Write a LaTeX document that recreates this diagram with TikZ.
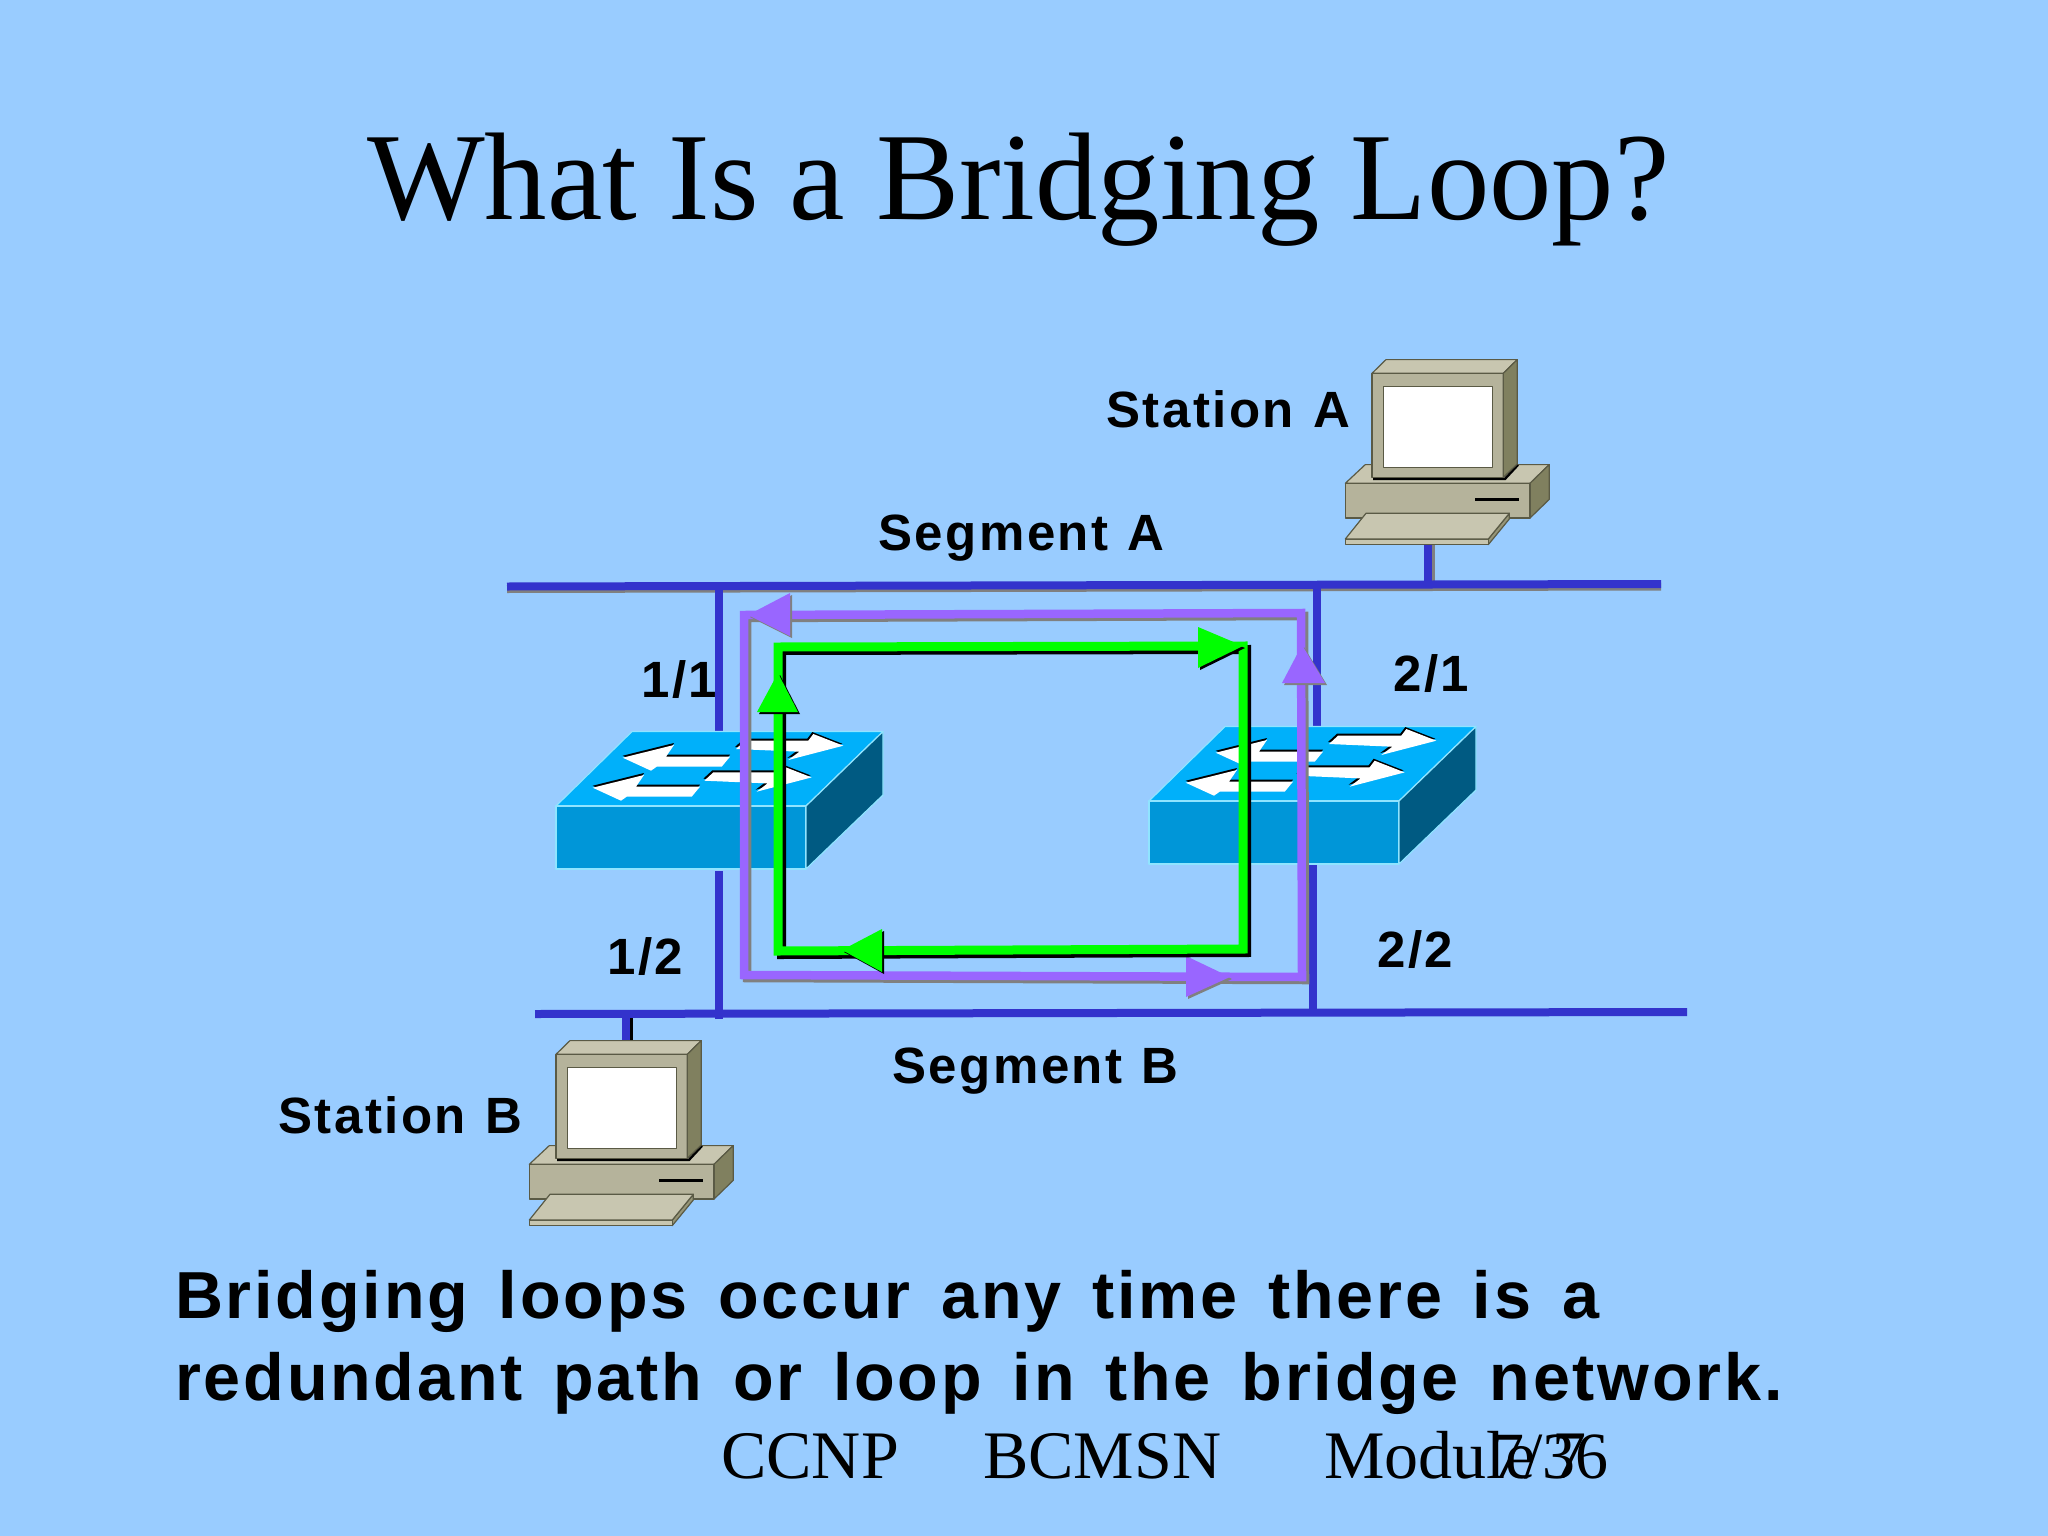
\documentclass[tikz,border=0pt]{standalone}
\usepackage{fontspec}
\setmainfont{Liberation Serif}
\newfontfamily\labelfont[LetterSpace=4.9, WordSpace=1.15]{Liberation Sans}
\newfontfamily\notefont[LetterSpace=4.2, WordSpace=1.45]{Liberation Sans}
\definecolor{slidebg}{HTML}{99CCFF}
\definecolor{busblue}{HTML}{3333CC}
\definecolor{loopgreen}{HTML}{00FF00}
\definecolor{looppurple}{HTML}{9966FF}
\definecolor{swtop}{HTML}{00B0FA}
\definecolor{swfront}{HTML}{0096D8}
\definecolor{swside}{HTML}{005A82}
\definecolor{swedge}{HTML}{90E4FF}
\definecolor{pcfront}{HTML}{B5B39B}
\definecolor{pctop}{HTML}{C8C6B0}
\definecolor{pcside}{HTML}{80805F}
\definecolor{pcedge}{HTML}{5A5A45}
\tikzset{
    portlabel/.style={font=\labelfont\bfseries\fontsize{51}{51}\selectfont, anchor=base west, inner sep=0pt},
    notetext/.style={font=\notefont\bfseries\fontsize{66.5}{66.5}\selectfont, anchor=base west, inner sep=0pt},
    foottext/.style={font=\fontsize{68}{68}\selectfont, anchor=base west, inner sep=0pt},
    busline/.style={draw=busblue, line width=8pt},
    swface/.style={draw=swedge, line width=1.2pt, line join=round},
    pcface/.style={draw=pcedge, line width=1.2pt, line join=round},
    offset/.style args={#1/#2}{transform canvas={shift={(#1,#2)}}},
}
% switch icon, #1 #2 = top left corner of the front face
\newcommand{\switchicon}[2]{
    \begin{scope}[shift={(#1,#2)}]
        \filldraw[swface, fill=swtop] (0,0) -- (76,-74.5) -- (327,-74.5) -- (250,0) -- cycle;
        \filldraw[swface, fill=swfront] (0,0) rectangle (250,63);
        \filldraw[swface, fill=swside] (250,0) -- (327,-74.5) -- (327,-11) -- (250,63) -- cycle;
        \foreach \dx/\dy in {0/0, -31.7/31.7} {
            \fill[black, shift={(\dx-1,\dy-2)}] (180,-57) -- (189,-65.3) -- (252.3,-65.3) -- (257.3,-72)
                -- (287.3,-60.3) -- (232.3,-46) -- (243.3,-54.3) -- cycle;
            \fill[white, shift={(\dx,\dy)}] (180,-57) -- (189,-65.3) -- (252.3,-65.3) -- (257.3,-72)
                -- (287.3,-60.3) -- (232.3,-46) -- (243.3,-54.3) -- cycle;
        }
        \foreach \dx/\dy in {0/0, 30/-30} {
            \fill[black, shift={(\dx,\dy-2)}] (36.7,-18.3) -- (88,-31) -- (80,-19.3) -- (144,-19.3)
                -- (135.7,-9.3) -- (70.7,-9.3) -- (65,-5.3) -- cycle;
            \fill[white, shift={(\dx,\dy)}] (36.7,-18.3) -- (88,-31) -- (80,-19.3) -- (144,-19.3)
                -- (135.7,-9.3) -- (70.7,-9.3) -- (65,-5.3) -- cycle;
        }
    \end{scope}
}
% computer icon, #1 #2 = top left corner of the monitor front
\newcommand{\pcicon}[2]{
    \begin{scope}[shift={(#1,#2)}]
        \filldraw[pcface, fill=pctop] (-26.7,110) -- (-6.7,91.3) -- (177.3,91.3) -- (158,110) -- cycle;
        \filldraw[pcface, fill=pcside] (158,110) -- (177.3,91.3) -- (177.3,126) -- (158,144.7) -- cycle;
        \filldraw[pcface, fill=pcfront] (-26.7,110) rectangle (158,144.7);
        \draw[black, line width=3pt] (103.3,125.7) -- (147.3,125.7);
        \draw[black, line width=2.5pt] (1,105.5) -- (133,105.5) -- (146,91.5);
        \filldraw[pcface, fill=pctop] (0,0) -- (14,-13.7) -- (145.3,-13.7) -- (131.3,0) -- cycle;
        \filldraw[pcface, fill=pcfront] (0,0) rectangle (131.3,104);
        \filldraw[pcface, fill=pcside] (131.3,0) -- (145.3,-13.7) -- (145.3,90.7) -- (131.3,104) -- cycle;
        \filldraw[pcface, fill=white] (11.3,13.3) rectangle (120.7,94);
        \filldraw[pcface, fill=pcside!70!pctop] (116.3,165.7) -- (137.3,140) -- (137.3,145.7) -- (116.3,171.3) -- cycle;
        \filldraw[pcface, fill=pctop] (-26.7,165.7) rectangle (116.3,171.3);
        \filldraw[pcface, fill=pctop] (-6,140) -- (137.3,140) -- (116.3,165.7) -- (-26.7,165.7) -- cycle;
    \end{scope}
}
\begin{document}
\begin{tikzpicture}[x=1pt, y=-1pt]
    \useasboundingbox (0,0) rectangle (2048,1536);
    \fill[slidebg] (0,0) rectangle (2048,1536);

    \node[font=\fontsize{124.7}{124.7}\selectfont, anchor=base west, inner sep=0pt] (title) at (367,219.5) {What Is a Bridging Loop?};

    % segments
    \coordinate (segAleft) at (507,586.5);
    \coordinate (segAright) at (1661,584);
    \coordinate (segBleft) at (535,1014);
    \coordinate (segBright) at (1687,1012);
    \coordinate (segAstub) at (1428,584);
    \coordinate (stAstub) at (1428,545);
    \coordinate (segBstub) at (626,1014);
    \coordinate (stBstub) at (626,1045);
    \draw[gray, line width=8pt, offset=0/2.5] (segAleft) -- (segAright);
    \draw[gray, line width=8pt, offset=2.5/0] (stAstub) -- (segAstub);
    \draw[black, line width=8pt, offset=2.5/0] (segBstub) -- (stBstub);
    \draw[busline] (segAleft) -- (segAright);
    \draw[busline] (segBleft) -- (segBright);
    \draw[busline] (stAstub) -- (segAstub);
    \draw[busline] (segBstub) -- (stBstub);

    % links to the bridges
    \coordinate (oneA) at (719,586);
    \coordinate (oneAend) at (719,740);
    \coordinate (oneB) at (719,1019);
    \coordinate (oneBend) at (719,871);
    \coordinate (twoA) at (1317,584);
    \coordinate (twoAend) at (1317,740);
    \coordinate (twoB) at (1313,1012);
    \coordinate (twoBend) at (1313,860);
    \draw[busline] (oneA) -- (oneAend);
    \draw[busline] (oneB) -- (oneBend);
    \draw[busline] (twoA) -- (twoAend);
    \draw[busline] (twoB) -- (twoBend);

    \switchicon{556}{806}
    \switchicon{1149}{801}
    \pcicon{1372}{373.3}
    \pcicon{556}{1054.3}

    % purple loop
    \coordinate (pA) at (744,615);
    \coordinate (pB) at (1301,613);
    \coordinate (pC) at (1302,977);
    \coordinate (pD) at (744,975);
    \draw[gray, line width=8.5pt, line join=miter, offset=3/3] (pA) -- (pB) -- (pC) -- (pD) -- cycle;
    \draw[looppurple, line width=8.5pt, line join=miter] (pA) -- (pB) -- (pC) -- (pD) -- cycle;
    \foreach \tipx/\tipy/\ax/\ay/\bx/\by in {748/615/790/593/790/636, 1302/645/1282/683/1325/683, 1230/977/1186/956/1186/997} {
        \fill[gray, shift={(2,2)}] (\tipx,\tipy) -- (\ax,\ay) -- (\bx,\by) -- cycle;
        \fill[looppurple] (\tipx,\tipy) -- (\ax,\ay) -- (\bx,\by) -- cycle;
    }

    % green loop
    \coordinate (gA) at (778,647);
    \coordinate (gB) at (1243,646);
    \coordinate (gC) at (1243,949);
    \coordinate (gD) at (778,951);
    \draw[black, line width=9pt, line join=miter, offset=3.5/3.5] (gA) -- (gB) -- (gC) -- (gD) -- cycle;
    \draw[loopgreen, line width=9pt, line join=miter] (gA) -- (gB) -- (gC) -- (gD) -- cycle;
    \foreach \tipx/\tipy/\ax/\ay/\bx/\by in {778/673/757/712/798/712, 842/950/882/929/882/972, 1243/646/1198/627/1198/668} {
        \fill[black, shift={(2,2)}] (\tipx,\tipy) -- (\ax,\ay) -- (\bx,\by) -- cycle;
        \fill[loopgreen] (\tipx,\tipy) -- (\ax,\ay) -- (\bx,\by) -- cycle;
    }

    \node[portlabel] (stationA) at (1106,427) {Station A};
    \node[portlabel] (stationB) at (278,1133) {Station B};
    \node[portlabel] (segmentA) at (878,550) {Segment A};
    \node[portlabel] (segmentB) at (892,1083) {Segment B};
    \node[portlabel] (portOneOne) at (641,697) {1/1};
    \node[portlabel] (portOneTwo) at (607,974) {1/2};
    \node[portlabel] (portTwoOne) at (1393,691) {2/1};
    \node[portlabel] (portTwoTwo) at (1377,967) {2/2};

    \node[notetext] (noteA) at (175,1318) {Bridging loops occur any time there is a};
    \node[notetext] (noteB) at (175,1400) {redundant path or loop in the bridge network.};

    \node[foottext] (footA) at (721,1478) {CCNP};
    \node[foottext] (footB) at (983,1478) {BCMSN};
    \node[foottext] (footC) at (1324,1478) {Module 7};
    \node[foottext, font=\fontsize{66}{66}\selectfont] (footD) at (1491,1478) {7/36};
\end{tikzpicture}
\end{document}
